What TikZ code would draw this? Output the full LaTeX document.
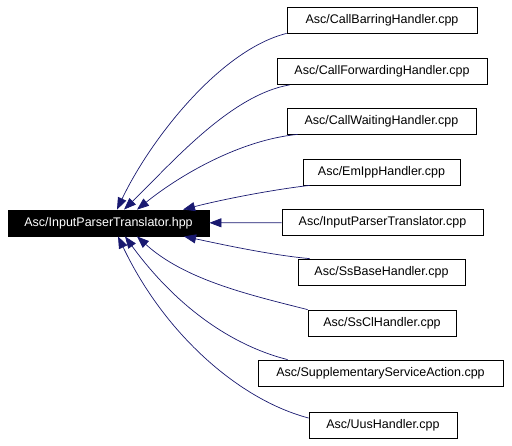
\documentclass[tikz,border=0pt]{standalone}
\usepackage{fontspec}
\setmainfont{Liberation Sans}
\usepackage{xcolor}
\usepackage{tikz}
\usetikzlibrary{arrows.meta}
\definecolor{edgeblue}{HTML}{191970}

\begin{document}
\begin{tikzpicture}[
    x=1pt, y=-1pt,
    file/.style={rectangle, draw=black, line width=0.8pt, fill=white, inner sep=0pt, minimum height=26pt, font=\fontsize{12.5}{14}\selectfont},
    cur/.style={file, fill=black, text=white},
    dep/.style={draw=edgeblue, line width=0.7pt, -{Triangle[length=12pt, width=9pt]}}
]
\useasboundingbox (0,0) rectangle (512,445);

\node[cur, minimum width=201pt] (main) at (108.5,223) {Asc/InputParserTranslator.hpp};

\node[file, minimum width=190pt] (cb) at (382,20) {Asc/CallBarringHandler.cpp};
\node[file, minimum width=210pt] (cf) at (382,71.5) {Asc/CallForwardingHandler.cpp};
\node[file, minimum width=189pt] (cw) at (381.5,121) {Asc/CallWaitingHandler.cpp};
\node[file, minimum width=157pt] (emipp) at (381.5,172) {Asc/EmIppHandler.cpp};
\node[file, minimum width=201pt] (ipt) at (382.5,222.5) {Asc/InputParserTranslator.cpp};
\node[file, minimum width=167pt] (ssbase) at (381.5,272) {Asc/SsBaseHandler.cpp};
\node[file, minimum width=148pt] (sscl) at (382,323) {Asc/SsClHandler.cpp};
\node[file, minimum width=245pt] (ssa) at (380.5,373) {Asc/SupplementaryServiceAction.cpp};
\node[file, minimum width=148pt] (uus) at (383,425) {Asc/UusHandler.cpp};

% includers above
\draw[dep] (cb.south west) .. controls (220,50) and (150,140) .. ([xshift=8.5pt]main.north);
\draw[dep] ([xshift=13pt]cf.south west) .. controls (230,95) and (170,165) .. ([xshift=15.5pt]main.north);
\draw[dep] ([xshift=11pt]cw.south west) .. controls (240,140) and (180,175) .. ([xshift=28.5pt]main.north);
\draw[dep] ([xshift=7pt]emipp.south west) .. controls (270,190) and (220,200) .. ([xshift=74.5pt]main.north);
\draw[dep] (ipt) -- (main);
% includers below
\draw[dep] ([xshift=12pt]ssbase.north west) .. controls (270,255) and (220,244) .. ([xshift=75.5pt]main.south);
\draw[dep] (sscl.north west) .. controls (250,295) and (185,280) .. ([xshift=28.5pt]main.south);
\draw[dep] ([xshift=30pt]ssa.north west) .. controls (230,345) and (175,305) .. ([xshift=16.5pt]main.south);
\draw[dep] ([yshift=7pt]uus.west) .. controls (240,400) and (165,335) .. ([xshift=9.5pt]main.south);
\end{tikzpicture}
\end{document}
